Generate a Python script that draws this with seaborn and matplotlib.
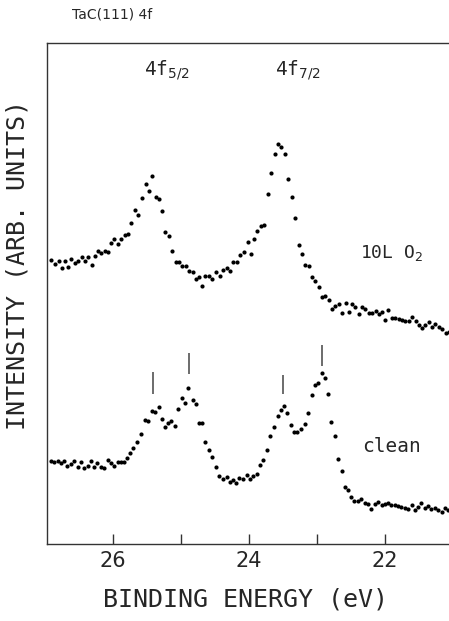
import matplotlib
matplotlib.use("Agg")
import matplotlib.pyplot as plt
import seaborn as sns
import pandas as pd
from matplotlib.ticker import FixedLocator

# ---------------- data ----------------
o2_energy = [26.91, 26.85, 26.80, 26.75, 26.71, 26.66, 26.61, 26.56, 26.51, 26.46,
             26.41, 26.36, 26.31, 26.26, 26.22, 26.17, 26.12, 26.07, 26.03, 25.98,
             25.93, 25.88, 25.83, 25.78, 25.74, 25.68, 25.63, 25.58, 25.52, 25.47,
             25.42, 25.37, 25.32, 25.28, 25.23, 25.18, 25.13, 25.08, 25.03, 24.98,
             24.93, 24.88, 24.83, 24.78, 24.74, 24.69, 24.64, 24.59, 24.54, 24.48,
             24.43, 24.38, 24.33, 24.28, 24.23, 24.18, 24.13, 24.07, 24.02, 23.97,
             23.93, 23.88, 23.83, 23.78, 23.72, 23.67, 23.62, 23.57, 23.53, 23.47,
             23.42, 23.37, 23.32, 23.27, 23.22, 23.17, 23.12, 23.07, 23.03, 22.97,
             22.93, 22.88, 22.83, 22.78, 22.73, 22.68, 22.63, 22.58, 22.53, 22.49,
             22.44, 22.39, 22.34, 22.29, 22.24, 22.19, 22.14, 22.09, 22.04, 22.00,
             21.95, 21.90, 21.85, 21.80, 21.75, 21.70, 21.65, 21.60, 21.55, 21.50,
             21.46, 21.41, 21.36, 21.31, 21.26, 21.21, 21.16, 21.11, 21.06]
o2_intensity = [284, 280, 283, 276, 283, 277, 285, 281, 283, 287,
                283, 287, 279, 288, 293, 291, 293, 292, 301, 305,
                300, 305, 309, 310, 321, 334, 329, 346, 360, 353,
                368, 347, 345, 333, 312, 308, 293, 282, 282, 278,
                278, 273, 272, 265, 267, 258, 268, 268, 265, 272,
                268, 274, 276, 273, 282, 282, 289, 292, 302, 290,
                305, 313, 318, 319, 350, 371, 390, 400, 397, 390,
                365, 347, 326, 299, 290, 279, 278, 267, 263, 257,
                247, 248, 244, 235, 238, 240, 231, 241, 232, 240,
                237, 230, 237, 235, 231, 231, 233, 230, 232, 224,
                234, 226, 226, 225, 224, 223, 223, 227, 223, 219,
                216, 219, 222, 217, 220, 217, 215, 211, 212]

clean_energy = [26.91, 26.86, 26.81, 26.76, 26.72, 26.67, 26.62, 26.57, 26.52, 26.47,
                26.42, 26.37, 26.32, 26.28, 26.23, 26.18, 26.13, 26.08, 26.03, 25.98,
                25.93, 25.88, 25.84, 25.79, 25.75, 25.70, 25.65, 25.59, 25.53, 25.48,
                25.43, 25.38, 25.33, 25.28, 25.24, 25.19, 25.14, 25.09, 25.04, 24.99,
                24.94, 24.89, 24.83, 24.78, 24.74, 24.69, 24.64, 24.59, 24.54, 24.49,
                24.44, 24.38, 24.33, 24.28, 24.24, 24.19, 24.14, 24.09, 24.03, 23.99,
                23.94, 23.89, 23.84, 23.79, 23.74, 23.69, 23.63, 23.58, 23.53, 23.49,
                23.44, 23.39, 23.34, 23.29, 23.24, 23.18, 23.13, 23.08, 23.03, 22.99,
                22.93, 22.88, 22.84, 22.79, 22.74, 22.69, 22.64, 22.59, 22.54, 22.50,
                22.45, 22.40, 22.35, 22.30, 22.25, 22.20, 22.15, 22.10, 22.05, 22.00,
                21.96, 21.91, 21.86, 21.81, 21.76, 21.71, 21.66, 21.61, 21.56, 21.51,
                21.47, 21.42, 21.37, 21.32, 21.27, 21.22, 21.17, 21.12, 21.07]
clean_intensity = [83, 82, 83, 81, 83, 78, 80, 83, 77, 82,
                   76, 78, 83, 77, 81, 77, 76, 84, 81, 78,
                   82, 82, 82, 86, 91, 96, 102, 110, 124, 123,
                   133, 132, 137, 125, 117, 121, 123, 118, 135, 146,
                   141, 156, 144, 140, 121, 121, 102, 94, 87, 77,
                   68, 65, 67, 62, 64, 61, 66, 65, 69, 65,
                   68, 70, 79, 84, 94, 108, 117, 128, 134, 138,
                   131, 119, 112, 112, 115, 120, 131, 149, 159, 161,
                   171, 166, 150, 122, 108, 85, 73, 57, 54, 47,
                   43, 43, 45, 41, 40, 35, 40, 42, 39, 40,
                   41, 39, 39, 38, 37, 36, 35, 39, 34, 37,
                   41, 36, 38, 35, 36, 34, 32, 36, 34]

marker_energy = [25.41, 24.88, 23.50, 22.92]
marker_low = [150, 170, 150, 178]
marker_high = [172, 191, 169, 199]

major_ticks = [26, 24, 22]
minor_ticks = [25, 23]
tick_labels = ["26", "24", "22"]

# ---------------- figure ----------------
sns.set_style("ticks")
plt.rcParams["font.family"] = ["DejaVu Sans Mono", "DejaVu Sans"]
plt.rcParams["mathtext.fontset"] = "dejavusans"

W, H = 449, 621
fig = plt.figure(figsize=(W / 100, H / 100), dpi=100)
ax = fig.add_axes([47 / W, 77 / H, 1 - 47 / W, (544 - 42.7) / H])

df_o2 = pd.DataFrame({"energy": o2_energy, "intensity": o2_intensity})
df_clean = pd.DataFrame({"energy": clean_energy, "intensity": clean_intensity})

sns.scatterplot(data=df_o2, x="energy", y="intensity", ax=ax, color="black",
                s=9, linewidth=0, legend=False)
sns.scatterplot(data=df_clean, x="energy", y="intensity", ax=ax, color="black",
                s=9, linewidth=0, legend=False)

ax.vlines(marker_energy, marker_low, marker_high, color="#444444", linewidth=1.1)

ax.set_xlim(26.97, 21.06)
ax.set_ylim(0, 501.3)

ax.xaxis.set_major_locator(FixedLocator(major_ticks))
ax.xaxis.set_minor_locator(FixedLocator(minor_ticks))
ax.set_xticklabels(tick_labels)
ax.tick_params(axis="x", which="both", direction="in", length=7, width=1,
               color="#333333", labelsize=15, pad=5, top=False)
ax.tick_params(axis="y", left=False, labelleft=False)
for lab in ax.get_xticklabels():
    lab.set_family("DejaVu Sans")

for side in ["left", "bottom", "top"]:
    ax.spines[side].set_visible(True)
    ax.spines[side].set_linewidth(1.0)
    ax.spines[side].set_color("#333333")
ax.spines["right"].set_visible(False)

ax.set_xlabel("BINDING ENERGY (eV)", fontsize=18, va="center")
ax.xaxis.set_label_coords(0.494, -0.11)
ax.set_ylabel("INTENSITY (ARB. UNITS)", fontsize=18, va="center", ha="center")
ax.yaxis.set_label_coords(-0.073, 0.557)

ax.text(25.21, 474, r"4f$_{5/2}$", fontsize=14, ha="center", va="center")
ax.text(23.28, 474, r"4f$_{7/2}$", fontsize=14, ha="center", va="center")
ax.text(22.37, 291, r"10L O$_2$", fontsize=13, ha="left", va="center")
ax.text(22.34, 97, "clean", fontsize=14, ha="left", va="center")

fig.text(72 / W, 1 - 15 / H, "TaC(111) 4f", fontsize=10, ha="left", va="center",
         family="DejaVu Sans")

fig.savefig("out.png", dpi=100)
